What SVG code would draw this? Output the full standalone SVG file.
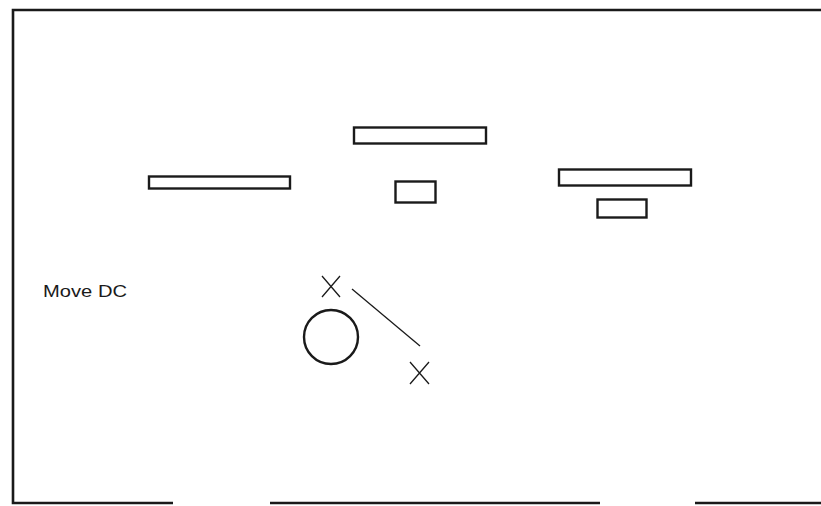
<svg xmlns="http://www.w3.org/2000/svg" width="821" height="506" viewBox="0 0 821 506">
<style>
.frame{fill:none;stroke:#1a1a1a;stroke-width:2.6}
.box{fill:#ffffff;stroke:#1a1a1a;stroke-width:2.4}
.mark{fill:none;stroke:#1a1a1a;stroke-width:1.3}
.lbl{font-family:"Liberation Sans",Arial,sans-serif;font-size:17px;fill:#1a1a1a}
</style>
<rect width="821" height="506" fill="#ffffff"/>
<g id="frame">
<path class="frame" d="M823,10 H13 V503 H173"/>
<path class="frame" d="M270,503 H600"/>
<path class="frame" d="M695,503 H823"/>
</g>
<g id="bar-left"><rect class="box" x="149" y="176.5" width="141" height="12"/></g>
<g id="bar-mid-top"><rect class="box" x="354" y="127.5" width="132" height="16"/></g>
<g id="box-mid"><rect class="box" x="395.5" y="181.5" width="40" height="21"/></g>
<g id="bar-right"><rect class="box" x="559" y="169.5" width="132" height="16"/></g>
<g id="box-right"><rect class="box" x="597.5" y="199.5" width="49" height="18"/></g>
<g id="circle"><circle class="box" cx="331" cy="337" r="27" stroke-width="2.6"/></g>
<g id="x1"><path class="mark" d="M322,276 L340,297 M340,276 L322,297"/></g>
<g id="x2"><path class="mark" d="M410,362 L429,384 M429,362 L410,384"/></g>
<g id="connectors"><line class="mark" x1="352" y1="289" x2="420" y2="346"/></g>
<g id="label"><text class="lbl" x="43" y="297" textLength="84" lengthAdjust="spacingAndGlyphs">Move DC</text></g>
</svg>
